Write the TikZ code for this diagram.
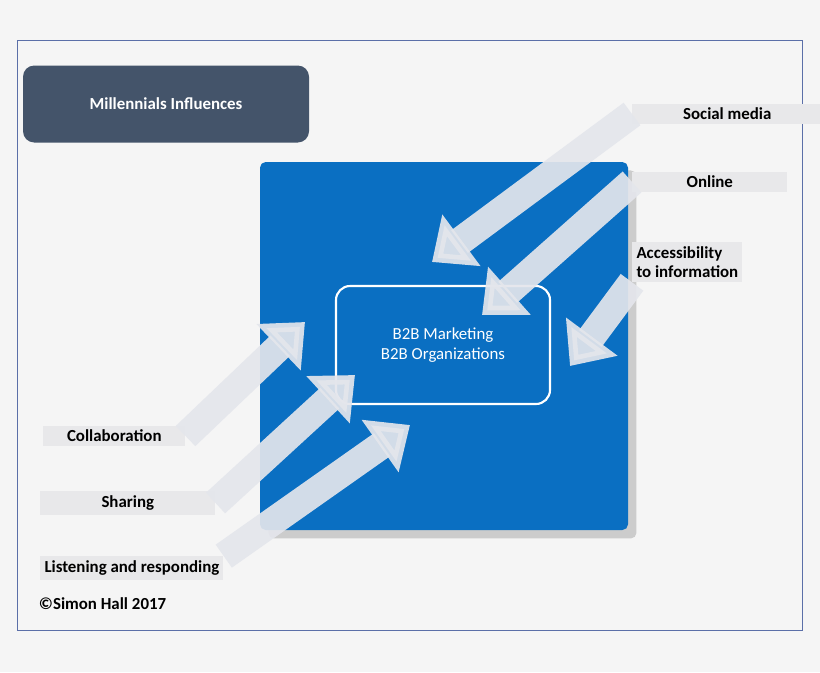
\documentclass[tikz,border=0pt]{standalone}
\usepackage{fontspec}
\setmainfont{Carlito}
\usetikzlibrary{arrows.meta,shadows}
\definecolor{bggray}{HTML}{F5F5F5}
\definecolor{framecol}{HTML}{5B6FA8}
\definecolor{titlecol}{HTML}{44546A}
\definecolor{boxblue}{HTML}{0A6FC2}
\definecolor{arrowcol}{HTML}{E4E6EC}
\definecolor{barcol}{HTML}{E8E8EA}
\tikzset{
  lbl/.style={fill=barcol, anchor=west, font=\bfseries\large, inner sep=3pt, align=left},
  bigarrow/.style={line width=20pt, draw=arrowcol, -{Triangle[length=26pt,width=44pt]}, opacity=0.92}
}
\begin{document}
\begin{tikzpicture}[x=0.025cm,y=-0.025cm]
    \useasboundingbox[fill=bggray] (0,0) rectangle (820,672);
    % Rahmen
    \draw[framecol, thin] (17,40) rectangle (802,630);
    % Titel
    \node[fill=titlecol, rounded corners=8pt, minimum width=286*0.025cm, minimum height=77*0.025cm, text=white, font=\bfseries\large] (title) at (166,104) {Millennials Influences};
    % Blaues Feld
    \node[fill=boxblue, rounded corners=4pt, minimum width=368*0.025cm, minimum height=368*0.025cm, drop shadow={opacity=0.35, shadow xshift=6pt, shadow yshift=-6pt}] (square) at (444,346) {};
    \node[draw=white, line width=1.5pt, rounded corners=10pt, minimum width=214*0.025cm, minimum height=118*0.025cm, text=white, font=\large, align=center] (core) at (443,345) {B2B Marketing\\B2B Organizations};
    % Beschriftungen rechts
    \node[lbl, minimum width=190*0.025cm] (social) at (632,114) {Social media};
    \node[lbl, minimum width=155*0.025cm] (online) at (632,182) {Online};
    \node[lbl] (access) at (632,262) {Accessibility\\to information};
    % Beschriftungen links
    \node[lbl, minimum width=142*0.025cm] (collab) at (43,436) {Collaboration};
    \node[lbl, minimum width=175*0.025cm] (sharing) at (40,503) {Sharing};
    \node[lbl] (listen) at (40,568) {Listening and responding};
    \node[anchor=west, font=\bfseries\large] (copy) at (34,604) {©Simon Hall 2017};
    % Pfeilspitzen
    \coordinate (tipsocial) at (432,262);
    \coordinate (tiponline) at (482,315);
    \coordinate (tipaccess) at (570,366);
    \coordinate (tipcollab) at (305,322);
    \coordinate (tipsharing) at (355,375);
    \coordinate (tiplisten) at (410,425);
    % Pfeile
    \draw[bigarrow] (social.west) -- (tipsocial);
    \draw[bigarrow] (online.west) -- (tiponline);
    \draw[bigarrow] (access.south west) -- (tipaccess);
    \draw[bigarrow] (collab.east) -- (tipcollab);
    \draw[bigarrow] (sharing.east) -- (tipsharing);
    \draw[bigarrow] (listen.north east) -- (tiplisten);
\end{tikzpicture}
\end{document}
